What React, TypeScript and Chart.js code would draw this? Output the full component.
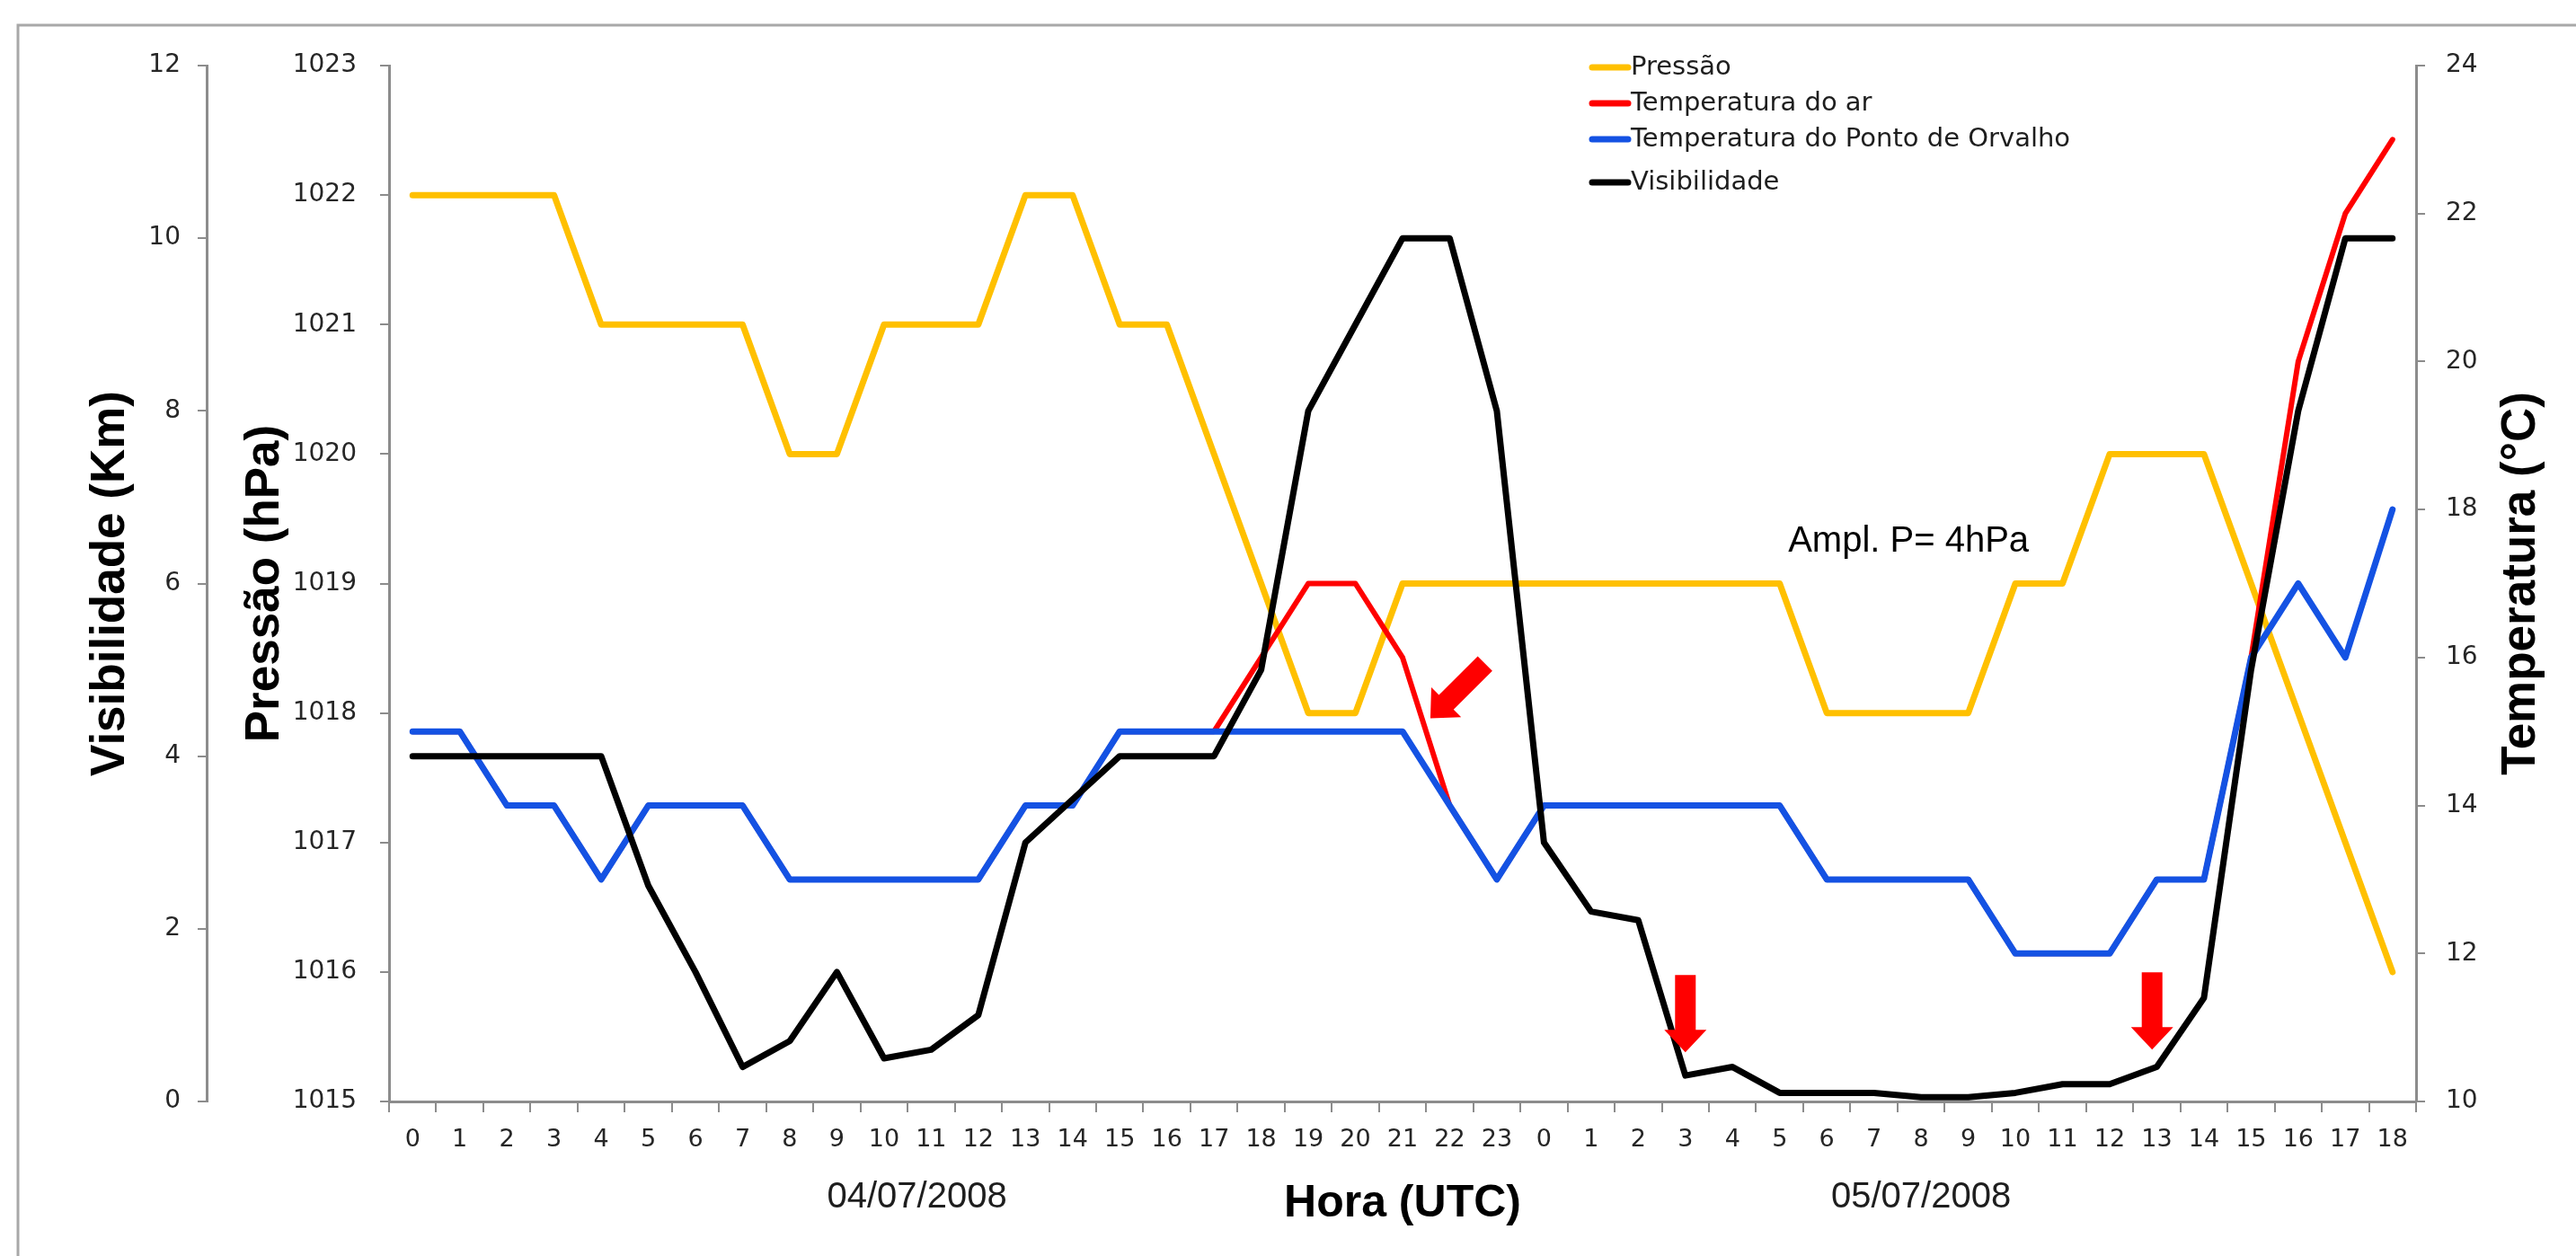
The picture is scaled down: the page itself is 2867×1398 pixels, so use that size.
import React, { useEffect, useRef } from 'react';
import { Chart, registerables } from 'chart.js';

Chart.register(...registerables);

// ---------- data ----------
const hourLabels = [
  '0', '1', '2', '3', '4', '5', '6', '7', '8', '9', '10', '11', '12', '13', '14', '15', '16', '17', '18', '19', '20', '21', '22', '23',
  '0', '1', '2', '3', '4', '5', '6', '7', '8', '9', '10', '11', '12', '13', '14', '15', '16', '17', '18',
];

const pressure = [
  1022, 1022, 1022, 1022, 1021, 1021, 1021, 1021, 1020, 1020, 1021, 1021, 1021, 1022, 1022, 1021, 1021, 1020, 1019, 1018, 1018, 1019, 1019, 1019,
  1019, 1019, 1019, 1019, 1019, 1019, 1018, 1018, 1018, 1018, 1019, 1019, 1020, 1020, 1020, 1019, 1018, 1017, 1016,
];

const airTemp = [
  15, 15, 14, 14, 13, 14, 14, 14, 13, 13, 13, 13, 13, 14, 14, 15, 15, 15, 16, 17, 17, 16, 14, 13,
  14, 14, 14, 14, 14, 14, 13, 13, 13, 13, 12, 12, 12, 13, 13, 16, 20, 22, 23,
];

const dewPoint = [
  15, 15, 14, 14, 13, 14, 14, 14, 13, 13, 13, 13, 13, 14, 14, 15, 15, 15, 15, 15, 15, 15, 14, 13,
  14, 14, 14, 14, 14, 14, 13, 13, 13, 13, 12, 12, 12, 13, 13, 16, 17, 16, 18,
];

const visibility = [
  4, 4, 4, 4, 4, 2.5, 1.5, 0.4, 0.7, 1.5, 0.5, 0.6, 1, 3, 3.5, 4, 4, 4, 5, 8, 9, 10, 10, 8,
  3, 2.2, 2.1, 0.3, 0.4, 0.1, 0.1, 0.1, 0.05, 0.05, 0.1, 0.2, 0.2, 0.4, 1.2, 5, 8, 10, 10,
];

const seriesLabels = ['Pressão', 'Temperatura do ar', 'Temperatura do Ponto de Orvalho', 'Visibilidade'];
const seriesColors = ['#FFC000', '#FF0000', '#1452E3', '#000000'];

const dayLabels = ['04/07/2008', '05/07/2008'];
const dayLabelIndex = [10.7, 32.0];

const annotationText = 'Ampl. P= 4hPa';
const annotationAt = { index: 29.18, pressure: 1019.32 };

// arrow tips: category index, value, axis, pointing direction (deg, screen, 90 = down)
const arrowTips = [
  { index: 21.59, value: 15.18, axis: 'yT', dir: 135 },
  { index: 27.0, value: 0.57, axis: 'yVis', dir: 90 },
  { index: 36.9, value: 0.6, axis: 'yVis', dir: 90 },
];

const TICK_FONT = { family: 'DejaVu Sans, Verdana, sans-serif', size: 28 };
const X_TICK_FONT = { family: 'DejaVu Sans, Verdana, sans-serif', size: 27 };
const TITLE_FONT = { family: 'Liberation Sans, Arial, sans-serif', size: 53, weight: 'bold' as const };
const AXIS_GRAY = '#8c8c8c';

function drawArrow(ctx: CanvasRenderingContext2D, tx: number, ty: number, dirDeg: number) {
  const L = 86, sw = 23, hw = 47, hl = 25;
  const a = (dirDeg * Math.PI) / 180;
  const dx = Math.cos(a), dy = Math.sin(a);
  const px = -dy, py = dx;
  const local: [number, number][] = [
    [0, 0], [hl, hw / 2], [hl, sw / 2], [L, sw / 2], [L, -sw / 2], [hl, -sw / 2], [hl, -hw / 2],
  ];
  ctx.beginPath();
  local.forEach(([u, v], i) => {
    const x = tx - u * dx + v * px;
    const y = ty - u * dy + v * py;
    if (i === 0) ctx.moveTo(x, y); else ctx.lineTo(x, y);
  });
  ctx.closePath();
  ctx.fillStyle = '#FF0000';
  ctx.fill();
}

const extrasPlugin = {
  id: 'extras',
  beforeDraw(chart: any) {
    const { ctx, width, height } = chart;
    ctx.save();
    ctx.fillStyle = '#ffffff';
    ctx.fillRect(0, 0, width, height);
    ctx.strokeStyle = '#a8a8a8';
    ctx.lineWidth = 3;
    ctx.strokeRect(20, 28, width + 40, height + 40);
    ctx.restore();
  },
  afterDraw(chart: any) {
    const { ctx, chartArea } = chart;
    const xs = chart.scales.x;
    ctx.save();

    // legend
    const rowsY = [75, 115, 155, 203];
    chart.data.datasets.forEach((ds: any, i: number) => {
      const y = rowsY[i];
      ctx.strokeStyle = ds.borderColor;
      ctx.lineWidth = 7;
      ctx.lineCap = 'round';
      ctx.beginPath();
      ctx.moveTo(1772, y);
      ctx.lineTo(1812, y);
      ctx.stroke();
      ctx.fillStyle = '#1e1e1e';
      ctx.font = '29px "DejaVu Sans", Verdana, sans-serif';
      ctx.textAlign = 'left';
      ctx.textBaseline = 'middle';
      ctx.fillText(ds.label, 1815, y);
    });

    // day labels
    ctx.fillStyle = '#1e1e1e';
    ctx.font = '40px "Liberation Sans", Arial, sans-serif';
    ctx.textAlign = 'center';
    ctx.textBaseline = 'middle';
    dayLabels.forEach((t, i) => {
      ctx.fillText(t, xs.getPixelForValue(dayLabelIndex[i]), 1333);
    });

    // annotation text
    ctx.fillStyle = '#000';
    ctx.font = '40px "Liberation Sans", Arial, sans-serif';
    ctx.textAlign = 'left';
    ctx.fillText(annotationText, xs.getPixelForValue(annotationAt.index), chart.scales.yP.getPixelForValue(annotationAt.pressure));

    // arrows
    arrowTips.forEach((a) => {
      drawArrow(ctx, xs.getPixelForValue(a.index), chart.scales[a.axis].getPixelForValue(a.value), a.dir);
    });

    // right axis title (reads bottom-to-top)
    ctx.translate(2806, (chartArea.top + chartArea.bottom) / 2);
    ctx.rotate(-Math.PI / 2);
    ctx.fillStyle = '#000';
    ctx.font = 'bold 53px "Liberation Sans", Arial, sans-serif';
    ctx.textAlign = 'center';
    ctx.textBaseline = 'middle';
    ctx.fillText('Temperatura (°C)', 0, 0);
    ctx.restore();
  },
};

function yScale(pos: string, weight: number, min: number, max: number, step: number, pad: number, width: number, title?: string, titlePad?: number) {
  return {
    type: 'linear',
    position: pos,
    weight,
    min,
    max,
    ticks: { stepSize: step, font: TICK_FONT, color: '#262626', padding: pad, format: { useGrouping: false } },
    grid: { display: true, drawOnChartArea: false, drawTicks: true, tickLength: 10, color: AXIS_GRAY, lineWidth: 2 },
    border: { display: true, color: AXIS_GRAY, width: 3 },
    title: title
      ? { display: true, text: title, font: TITLE_FONT, color: '#000', padding: { top: titlePad, bottom: 0 } }
      : { display: false },
    afterFit: (s: any) => { s.width = width; },
  };
}

export default function App() {
  const ref = useRef<HTMLCanvasElement>(null);
  useEffect(() => {
    document.body.style.margin = '0';
    const canvas = ref.current;
    if (!canvas) return;
    const chart = new Chart(canvas, {
      type: 'line',
      data: {
        labels: hourLabels,
        datasets: [
          { label: seriesLabels[0], data: pressure, yAxisID: 'yP', borderColor: seriesColors[0], borderWidth: 7, order: 4 },
          { label: seriesLabels[1], data: airTemp, yAxisID: 'yT', borderColor: seriesColors[1], borderWidth: 6, order: 3 },
          { label: seriesLabels[2], data: dewPoint, yAxisID: 'yT', borderColor: seriesColors[2], borderWidth: 7, order: 2 },
          { label: seriesLabels[3], data: visibility, yAxisID: 'yVis', borderColor: seriesColors[3], borderWidth: 7, order: 1 },
        ],
      },
      options: {
        animation: false,
        responsive: true,
        maintainAspectRatio: false,
        layout: { padding: { left: 0, right: 0, top: 73, bottom: 0 } },
        elements: {
          point: { radius: 0, hoverRadius: 0 },
          line: { tension: 0, borderJoinStyle: 'round', borderCapStyle: 'round', fill: false },
        },
        plugins: { legend: { display: false }, tooltip: { enabled: false } },
        scales: {
          x: {
            type: 'category',
            offset: true,
            grid: { display: true, offset: true, drawOnChartArea: false, drawTicks: true, tickLength: 12, color: AXIS_GRAY, lineWidth: 2 },
            border: { display: true, color: AXIS_GRAY, width: 3 },
            ticks: { font: X_TICK_FONT, color: '#262626', padding: 15, maxRotation: 0, autoSkip: false },
            title: { display: true, text: 'Hora (UTC)', font: { family: 'Liberation Sans, Arial, sans-serif', size: 50, weight: 'bold' }, color: '#000', padding: { top: 0, bottom: 28 } },
            afterFit: (s: any) => { s.height = 172; },
          },
          yVis: yScale('left', 2, 0, 12, 2, 19, 230, 'Visibilidade (Km)', 92),
          yP: yScale('left', 1, 1015, 1023, 1, 26, 203, 'Pressão (hPa)', 34),
          yT: yScale('right', 1, 10, 24, 2, 23, 178),
        } as any,
      },
      plugins: [extrasPlugin],
    } as any);
    return () => chart.destroy();
  }, []);
  return (
    <div style={{ position: 'absolute', left: 0, top: 0, width: 2867, height: 1398, background: '#fff' }}>
      <canvas ref={ref} style={{ display: 'block' }} />
    </div>
  );
}
